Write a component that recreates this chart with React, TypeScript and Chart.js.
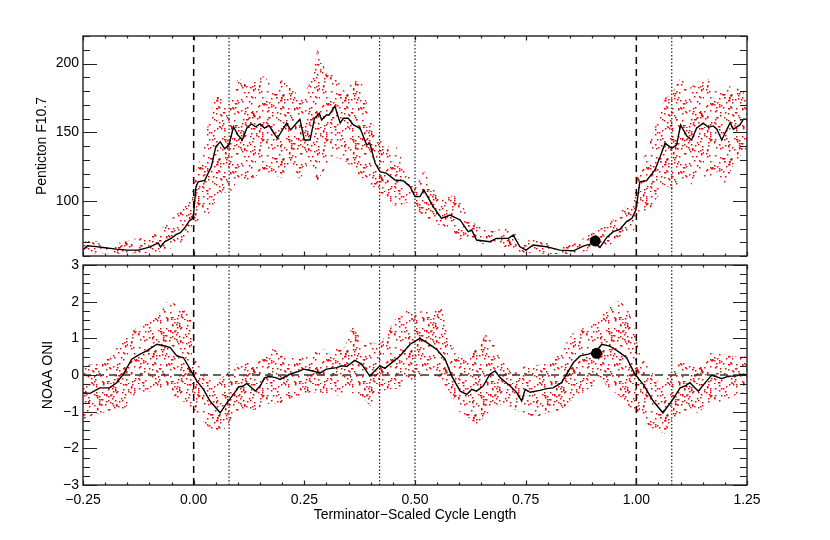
import React, { useEffect, useRef } from 'react';
import { Chart, registerables } from 'chart.js';

Chart.register(...registerables);

const FONT = "'Liberation Sans', Arial, Helvetica, sans-serif";

// axis ranges and tick marks
const X_MIN = -0.25;
const X_MAX = 1.25;
const xTickValues = [-0.25, 0, 0.25, 0.5, 0.75, 1, 1.25];
const F107_MIN = 60;
const F107_MAX = 220;
const f107TickValues = [100, 150, 200];
const ONI_MIN = -3;
const ONI_MAX = 3;
const oniTickValues = [-3, -2, -1, 0, 1, 2, 3];

// reference lines
const dashedLinesX = [0, 1];
const dottedLinesX = [0.08, 0.42, 0.5, 1.08];

// envelope of the red scatter (superposed epochs)
const envX = [
  -0.25, -0.22, -0.19, -0.16, -0.13, -0.1, -0.08, -0.06, -0.04, -0.02, -0.005,
  0.005, 0.02, 0.035, 0.05, 0.065, 0.08, 0.1, 0.12, 0.14, 0.16, 0.18, 0.2, 0.22,
  0.24, 0.26, 0.28, 0.3, 0.32, 0.34, 0.36, 0.38, 0.4, 0.42, 0.44, 0.46, 0.48,
  0.5, 0.52, 0.54, 0.56, 0.58, 0.6, 0.62, 0.64, 0.66, 0.68, 0.7, 0.72, 0.74,
  0.76, 0.78, 0.8, 0.82, 0.84, 0.86, 0.88, 0.9, 0.92, 0.94, 0.96, 0.98, 0.995,
  1.005, 1.02, 1.035, 1.05, 1.065, 1.08, 1.1, 1.12, 1.14, 1.16, 1.18, 1.2, 1.22,
  1.24, 1.25,
];
const f107Upper = [
  71, 71, 69, 70, 73, 74, 78, 84, 90, 96, 104,
  122, 136, 160, 177, 174, 167, 190, 185, 189, 191, 183, 188, 182,
  176, 184, 210, 193, 192, 180, 188, 186, 160, 145, 140, 139, 123,
  110, 122, 111, 101, 104, 103, 88, 82, 79, 78, 81, 80, 69,
  72, 71, 70, 68, 68, 69, 73, 77, 80, 84, 91, 97, 104,
  122, 135, 148, 160, 175, 178, 190, 182, 187, 190, 181, 184, 183,
  180, 176,
];
const f107Lower = [
  61, 62, 62, 61.5, 62, 62, 63, 64.5, 67, 72, 76,
  80, 88, 91, 100, 107, 105, 115, 113, 118, 122, 119, 117, 129,
  115, 128, 115, 125, 132, 130, 123, 117, 112, 106, 101, 95, 99,
  96, 88, 84, 82, 79, 72, 73, 70, 68, 67, 66.5, 66, 62,
  62, 61.5, 61.5, 61.5, 61.5, 61.5, 63, 65, 66.5, 68, 71, 76, 79,
  92, 92, 96, 104, 112, 108, 115, 109, 122, 115, 122, 112, 127,
  135, 138,
];
const oniUpper = [
  0.25, 0.32, 0.47, 1.0, 1.28, 1.48, 1.65, 2.0, 1.94, 1.75, 1.52,
  0.43, 0.1, -0.1, -0.21, -0.05, 0.1, 0.35, 0.4, 0.3, 0.5, 0.72, 0.52, 0.47,
  0.47, 0.5, 0.7, 0.7, 0.7, 0.75, 1.39, 0.89, 0.89, 0.84, 1.21, 1.62, 1.75,
  1.65, 1.78, 1.75, 1.84, 0.9, 0.45, 0.52, 0.79, 1.1, 0.85, 0.38, 0.0, 0.22,
  0.25, 0.28, 0.35, 0.55, 0.85, 1.2, 1.28, 1.35, 1.62, 1.89, 2.03, 1.84, 1.3,
  0.7, 0.35, 0.08, -0.2, -0.1, 0.1, 0.34, 0.3, 0.18, 0.6, 0.65, 0.55, 0.52,
  0.52, 0.5,
];
const oniLower = [
  -1.21, -1.06, -1.0, -1.0, -0.48, -0.45, -0.35, -0.45, -0.6, -0.75, -0.9,
  -1.0, -1.25, -1.45, -1.53, -1.55, -1.3, -1.05, -0.98, -0.95, -0.8, -0.78, -0.76, -0.65,
  -0.55, -0.48, -0.48, -0.5, -0.58, -0.5, -0.5, -0.6, -0.85, -0.48, -0.39, -0.39, -0.25,
  -0.1, 0.0, 0.02, -0.15, -0.5, -1.0, -1.15, -1.35, -1.1, -0.85, -0.78, -0.9, -1.05,
  -1.12, -1.12, -1.03, -1.0, -0.85, -0.58, -0.48, -0.32, -0.1, -0.39, -0.55, -0.8, -1.0,
  -1.12, -1.28, -1.45, -1.53, -1.6, -1.21, -1.12, -0.9, -1.05, -0.8, -0.76, -0.7, -0.58,
  -0.48, -0.45,
];

// mean curves
const f107LineX = [
  -0.25, -0.24, -0.225, -0.2, -0.175, -0.15, -0.125, -0.1, -0.08, -0.075, -0.065,
  -0.05, -0.04, -0.03, -0.02, -0.01, -0.003, 0.0, 0.005, 0.01, 0.025, 0.04, 0.05,
  0.06, 0.07, 0.08, 0.09, 0.1, 0.11, 0.12, 0.13, 0.14, 0.15, 0.16, 0.17, 0.18,
  0.189, 0.21, 0.219, 0.24, 0.25, 0.263, 0.273, 0.284, 0.289, 0.3, 0.306, 0.319,
  0.331, 0.338, 0.349, 0.361, 0.376, 0.391, 0.398, 0.41, 0.421, 0.436, 0.455,
  0.474, 0.489, 0.5, 0.511, 0.52, 0.541, 0.56, 0.579, 0.602, 0.62, 0.628, 0.639,
  0.669, 0.684, 0.711, 0.722, 0.737, 0.751, 0.767, 0.797, 0.812, 0.827, 0.858,
  0.88, 0.907, 0.918, 0.933, 0.948, 0.963, 0.978, 0.99, 0.999, 1.008, 1.023,
  1.042, 1.054, 1.065, 1.08, 1.091, 1.1, 1.114, 1.125, 1.136, 1.151, 1.163,
  1.174, 1.182, 1.193, 1.212, 1.219, 1.234, 1.242, 1.25,
];
const f107LineY = [
  64.3, 67.5, 67, 66, 65, 64.3, 64.3, 66.5, 69.5, 66.5, 70.5,
  73, 75.5, 77, 80.5, 85.5, 87, 91, 110, 114, 115, 125, 139.6,
  143, 138, 141, 154, 148, 144.4, 152.9, 156, 154, 156, 153, 155, 150,
  145.6, 156.6, 151.7, 159.5, 144.4, 144.4, 160.2, 163.8, 159, 162.6, 162.6, 169,
  156.6, 160.2, 160.2, 155.3, 152.9, 140.8, 142, 127.4, 121.4, 120.1, 115.3,
  114.6, 110.4, 103.2, 103.2, 108, 95.9, 87.4, 89.8, 86.2, 77.7, 78.9, 71.6,
  70.4, 72.8, 72.8, 75.2, 66.7, 64.3, 68, 66.7, 65.5, 64.3, 63.8,
  67.2, 69.7, 66.3, 73.5, 77.7, 79.4, 85, 87.4, 93.4, 114, 114.8,
  122.6, 132.3, 142, 138.3, 140.8, 155.3, 147.3, 144.4, 152.9, 156.6, 153.6,
  154.6, 152.2, 144.4, 157, 152.2, 155.3, 159.5, 159.5,
];
const oniLineX = [
  -0.25, -0.234, -0.212, -0.19, -0.174, -0.159, -0.14, -0.121, -0.106, -0.083,
  -0.065, -0.053, -0.038, -0.023, -0.008, 0.007, 0.022, 0.037, 0.06, 0.075, 0.09,
  0.101, 0.112, 0.12, 0.131, 0.139, 0.15, 0.161, 0.172, 0.187, 0.195, 0.217, 0.24,
  0.248, 0.27, 0.285, 0.3, 0.323, 0.334, 0.346, 0.364, 0.38, 0.398, 0.413, 0.421,
  0.432, 0.443, 0.466, 0.489, 0.511, 0.526, 0.549, 0.568, 0.583, 0.602, 0.617,
  0.628, 0.639, 0.654, 0.669, 0.681, 0.692, 0.715, 0.73, 0.741, 0.749, 0.76,
  0.782, 0.797, 0.812, 0.831, 0.858, 0.873, 0.892, 0.91, 0.922, 0.94, 0.963,
  0.978, 0.997, 1.016, 1.038, 1.06, 1.08, 1.099, 1.11, 1.121, 1.14, 1.159, 1.17,
  1.182, 1.193, 1.208, 1.223, 1.242, 1.25,
];
const oniLineY = [
  -0.48, -0.5, -0.35, -0.35, -0.21, 0.02, 0.43, 0.57, 0.66, 0.84,
  0.79, 0.75, 0.52, 0.47, 0.16, -0.16, -0.39, -0.71, -1.03, -0.76, -0.53,
  -0.33, -0.3, -0.23, -0.35, -0.44, -0.3, -0.07, -0.04, -0.08, -0.12, 0.02, 0.11,
  0.16, 0.11, 0.05, 0.16, 0.2, 0.25, 0.23, 0.4, 0.29, -0.03, 0.16, 0.25,
  0.18, 0.29, 0.52, 0.84, 1.0, 0.89, 0.7, 0.43, -0.03, -0.44, -0.53,
  -0.39, -0.44, -0.3, 0.02, 0.11, -0.07, -0.3, -0.48, -0.71, -0.39, -0.47,
  -0.42, -0.37, -0.35, -0.21, 0.34, 0.52, 0.57, 0.66, 0.84, 0.79, 0.61,
  0.47, 0.02, -0.26, -0.71, -1.03, -0.71, -0.35, -0.3, -0.21, -0.44, -0.16, -0.01,
  -0.05, -0.1, -0.03, -0.03, 0.02, 0.0,
];

// current-epoch markers
const f107MarkerX = [0.907];
const f107MarkerY = [71];
const oniMarkerX = [0.91];
const oniMarkerY = [0.59];

// stippled texture used to paint the scatter band (style only)
function makeDotPattern(ctx: CanvasRenderingContext2D): CanvasPattern | string {
  const size = 64;
  const tile = document.createElement('canvas');
  tile.width = size;
  tile.height = size;
  const g = tile.getContext('2d');
  if (!g) return 'rgba(255,0,0,0.3)';
  g.fillStyle = '#ff0000';
  const hash = (n: number) => {
    let h = Math.imul(n ^ 0x9e3779b9, 0x85ebca6b);
    h ^= h >>> 13;
    h = Math.imul(h, 0xc2b2ae35);
    h ^= h >>> 16;
    return (h >>> 0) / 4294967296;
  };
  for (let i = 0; i < 270; i++) {
    const px = Math.floor(hash(i * 2 + 1) * size);
    const py = Math.floor(hash(i * 2 + 2) * size);
    g.fillRect(px, py, 1.5, 1.5);
  }
  return ctx.createPattern(tile, 'repeat') || 'rgba(255,0,0,0.3)';
}

const framePlugin = {
  id: 'frame',
  afterDatasetsDraw(chart: any, _args: any, opts: any) {
    const { ctx, chartArea: a, scales } = chart;
    const xs = scales.x;
    const ys = scales.y;
    ctx.save();
    ctx.strokeStyle = '#222';
    ctx.lineWidth = 1.2;
    ctx.beginPath();
    const nx = Math.round((X_MAX - X_MIN) / opts.xMinor);
    for (let k = 0; k <= nx; k++) {
      const v = X_MIN + k * opts.xMinor;
      const px = Math.round(xs.getPixelForValue(v)) + 0.5;
      const len = k % opts.xPer === 0 ? 4.5 : 2.5;
      ctx.moveTo(px, a.bottom);
      ctx.lineTo(px, a.bottom - len);
      ctx.moveTo(px, a.top);
      ctx.lineTo(px, a.top + len);
    }
    const ny = Math.round((opts.yMax - opts.yMin) / opts.yMinor);
    for (let k = 0; k <= ny; k++) {
      const v = opts.yMin + k * opts.yMinor;
      const py = Math.round(ys.getPixelForValue(v)) + 0.5;
      const major = opts.yMajors.some((m: number) => Math.abs(m - v) < 1e-6);
      const len = major ? 14 : 7;
      ctx.moveTo(a.left, py);
      ctx.lineTo(a.left + len, py);
      ctx.moveTo(a.right, py);
      ctx.lineTo(a.right - len, py);
    }
    ctx.stroke();
    ctx.lineWidth = 1.4;
    ctx.strokeRect(a.left, a.top, a.right - a.left, a.bottom - a.top);
    ctx.restore();
  },
};

function fmtX(v: number): string {
  const s = Math.abs(v).toFixed(2);
  return v < -1e-9 ? '\u2212' + s : s;
}
function fmtY(v: number): string {
  return v < 0 ? '\u2212' + Math.abs(v) : String(v);
}

function refDatasets(yMin: number, yMax: number) {
  const out: any[] = [];
  dashedLinesX.forEach((x) => {
    out.push({
      data: [{ x, y: yMin }, { x, y: yMax }],
      borderColor: '#000',
      borderWidth: 1.5,
      borderDash: [7, 5],
      pointRadius: 0,
      fill: false,
      order: 3,
    });
  });
  dottedLinesX.forEach((x) => {
    out.push({
      data: [{ x, y: yMin }, { x, y: yMax }],
      borderColor: '#222',
      borderWidth: 1.2,
      borderDash: [1.5, 2],
      pointRadius: 0,
      fill: false,
      order: 3,
    });
  });
  return out;
}

function buildConfig(panel: 'f107' | 'oni', pattern: any): any {
  const isTop = panel === 'f107';
  const yMin = isTop ? F107_MIN : ONI_MIN;
  const yMax = isTop ? F107_MAX : ONI_MAX;
  const up = isTop ? f107Upper : oniUpper;
  const lo = isTop ? f107Lower : oniLower;
  const lx = isTop ? f107LineX : oniLineX;
  const ly = isTop ? f107LineY : oniLineY;
  const mx = isTop ? f107MarkerX : oniMarkerX;
  const my = isTop ? f107MarkerY : oniMarkerY;
  const yTicks = isTop ? f107TickValues : oniTickValues;
  const padLeft = isTop ? 34 : 40;

  const datasets: any[] = [
    {
      data: envX.map((x, i) => ({ x, y: up[i] })),
      borderWidth: 0,
      borderColor: 'rgba(0,0,0,0)',
      pointRadius: 0,
      fill: '+1',
      backgroundColor: pattern,
      order: 5,
    },
    {
      data: envX.map((x, i) => ({ x, y: lo[i] })),
      borderWidth: 0,
      borderColor: 'rgba(0,0,0,0)',
      pointRadius: 0,
      fill: false,
      order: 6,
    },
    ...refDatasets(yMin, yMax),
  ];
  if (!isTop) {
    datasets.push({
      data: [{ x: X_MIN, y: 0 }, { x: X_MAX, y: 0 }],
      borderColor: '#333',
      borderWidth: 1.5,
      borderDash: [8, 5],
      pointRadius: 0,
      fill: false,
      order: 3,
    });
  }
  datasets.push({
    data: lx.map((x, i) => ({ x, y: ly[i] })),
    borderColor: '#000',
    borderWidth: 1.4,
    pointRadius: 0,
    tension: 0,
    fill: false,
    order: 1,
  });
  datasets.push({
    data: mx.map((x, i) => ({ x, y: my[i] })),
    showLine: false,
    pointRadius: 5.5,
    pointBackgroundColor: '#000',
    pointBorderWidth: 0,
    fill: false,
    order: 0,
  });

  return {
    type: 'line',
    data: { datasets },
    plugins: [framePlugin],
    options: {
      animation: false,
      responsive: false,
      devicePixelRatio: 1,
      events: [],
      layout: {
        padding: isTop
          ? { left: padLeft, right: 83, top: 36, bottom: 284 }
          : { left: padLeft, right: 83, top: 265, bottom: 0 },
      },
      plugins: {
        legend: { display: false },
        tooltip: { enabled: false },
        frame: {
          xMinor: 0.05,
          xPer: 5,
          yMin,
          yMax,
          yMinor: isTop ? 10 : 0.25,
          yMajors: yTicks,
        },
      },
      scales: {
        x: {
          type: 'linear',
          min: X_MIN,
          max: X_MAX,
          grid: { display: false, drawTicks: false },
          border: { display: false },
          afterBuildTicks: (s: any) => {
            s.ticks = xTickValues.map((v) => ({ value: v }));
          },
          afterFit: (s: any) => {
            s.height = isTop ? 0 : 55;
          },
          ticks: {
            display: !isTop,
            color: '#000',
            maxRotation: 0,
            autoSkip: false,
            padding: 7,
            font: { family: FONT, size: 14 },
            callback: (v: any) => fmtX(Number(v)),
          },
          title: {
            display: !isTop,
            text: 'Terminator\u2212Scaled Cycle Length',
            color: '#000',
            font: { family: FONT, size: 14 },
            padding: { top: 0, bottom: 16 },
          },
        },
        y: {
          type: 'linear',
          min: yMin,
          max: yMax,
          grid: { display: false, drawTicks: false },
          border: { display: false },
          afterBuildTicks: (s: any) => {
            s.ticks = yTicks.map((v) => ({ value: v }));
          },
          afterFit: (s: any) => {
            s.width = 83 - padLeft;
          },
          ticks: {
            color: '#000',
            padding: 4,
            autoSkip: false,
            font: { family: FONT, size: 14 },
            callback: (v: any) => fmtY(Number(v)),
          },
          title: {
            display: true,
            text: isTop ? 'Penticton F10.7' : 'NOAA ONI',
            color: '#000',
            font: { family: FONT, size: 14 },
            padding: { top: 0, bottom: 0 },
          },
        },
      },
    },
  };
}

export default function App() {
  const topRef = useRef<HTMLCanvasElement | null>(null);
  const botRef = useRef<HTMLCanvasElement | null>(null);

  useEffect(() => {
    const charts: Chart[] = [];
    const make = (cv: HTMLCanvasElement | null, panel: 'f107' | 'oni') => {
      if (!cv) return;
      const ctx = cv.getContext('2d');
      if (!ctx) return;
      const pattern = makeDotPattern(ctx);
      charts.push(new Chart(ctx, buildConfig(panel, pattern)));
    };
    make(topRef.current, 'f107');
    make(botRef.current, 'oni');
    return () => {
      charts.forEach((c) => c.destroy());
    };
  }, []);

  const cvStyle: React.CSSProperties = {
    position: 'absolute',
    left: 0,
    top: 0,
    width: 830,
    height: 540,
  };

  return (
    <div style={{ position: 'absolute', left: 0, top: 0, width: 830, height: 540, background: '#fff' }}>
      <canvas ref={topRef} width={830} height={540} style={cvStyle} />
      <canvas ref={botRef} width={830} height={540} style={cvStyle} />
    </div>
  );
}
